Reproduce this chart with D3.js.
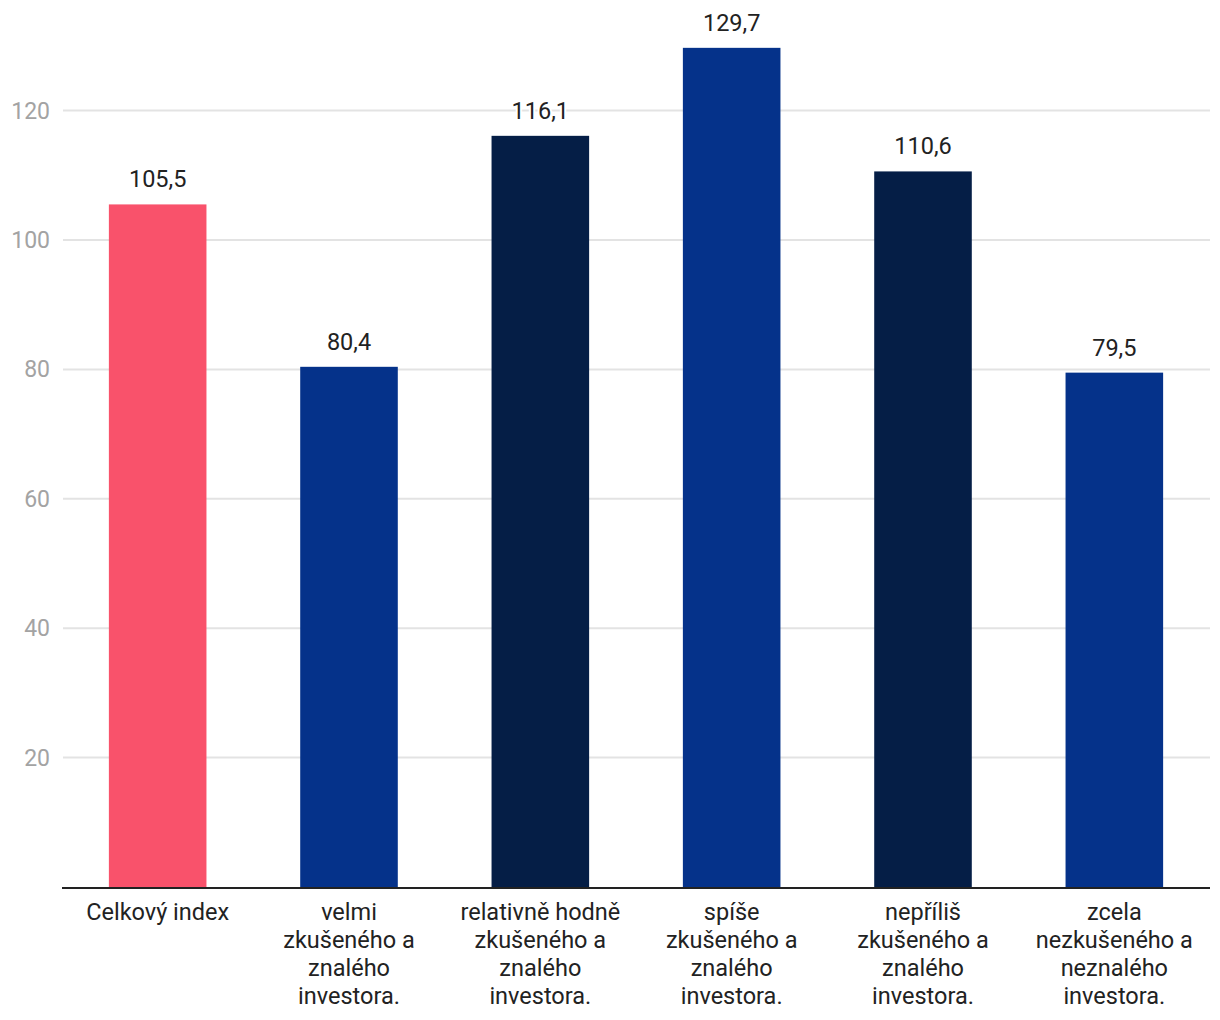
<!DOCTYPE html>
<html>
<head>
<meta charset="utf-8">
<script src="https://cdn.jsdelivr.net/npm/d3@7"></script>
<style>
  html, body { margin: 0; padding: 0; background: #fff; }
  svg { display: block; font-family: Roboto, "Noto Sans", sans-serif; }
</style>
</head>
<body>
<svg id="chart"></svg>
<script>
const categories = [
  "Celkový index",
  "velmi\nzkušeného a\nznalého\ninvestora.",
  "relativně hodně\nzkušeného a\nznalého\ninvestora.",
  "spíše\nzkušeného a\nznalého\ninvestora.",
  "nepříliš\nzkušeného a\nznalého\ninvestora.",
  "zcela\nnezkušeného a\nneznalého\ninvestora."
];
const values = [105.5, 80.4, 116.1, 129.7, 110.6, 79.5];
const barColors = ["#f9526b", "#05328a", "#051e46", "#05328a", "#051e46", "#05328a"];
const yTicks = [20, 40, 60, 80, 100, 120];

const width = 1220, height = 1020;
const margin = { top: 0, right: 10, bottom: 133, left: 62 };

const svg = d3.select("#chart").attr("width", width).attr("height", height);

// x scale
const x = d3.scaleBand()
  .domain(d3.range(categories.length))
  .range([margin.left, width - margin.right])
  .paddingInner(0.49)
  .paddingOuter(0.245);

// y scale
const y = d3.scaleLinear()
  .domain([0, 20])
  .range([height - margin.bottom, height - margin.bottom - 129.4]);

// gridlines + tick labels
const grid = svg.append("g");
grid.selectAll("line")
  .data(yTicks)
  .join("line")
  .attr("x1", margin.left + 1)
  .attr("x2", width - margin.right)
  .attr("y1", d => y(d))
  .attr("y2", d => y(d))
  .attr("stroke", "#e3e3e3")
  .attr("stroke-width", 2);

grid.selectAll("text")
  .data(yTicks)
  .join("text")
  .attr("x", 50)
  .attr("y", d => y(d))
  .attr("dy", "0.35em")
  .attr("text-anchor", "end")
  .attr("fill", "#a3a3a3")
  .style("font-size", "23px")
  .text(d => d);

// bars
svg.append("g")
  .selectAll("rect")
  .data(values)
  .join("rect")
  .attr("x", (d, i) => x(i))
  .attr("y", d => y(d))
  .attr("width", x.bandwidth())
  .attr("height", d => y(0) - y(d))
  .attr("fill", (d, i) => barColors[i]);

// value labels
svg.append("g")
  .selectAll("text")
  .data(values)
  .join("text")
  .attr("x", (d, i) => x(i) + x.bandwidth() / 2)
  .attr("y", d => y(d) - 17)
  .attr("text-anchor", "middle")
  .attr("fill", "#222")
  .attr("stroke", "#fff")
  .attr("stroke-width", 4)
  .attr("paint-order", "stroke")
  .style("font-size", "23.5px")
  .text(d => d3.format(".1f")(d).replace(".", ","));

// baseline
svg.append("line")
  .attr("x1", margin.left)
  .attr("x2", width - margin.right)
  .attr("y1", y(0) + 1)
  .attr("y2", y(0) + 1)
  .attr("stroke", "#222")
  .attr("stroke-width", 2);

// category labels
const cat = svg.append("g")
  .selectAll("text")
  .data(categories)
  .join("text")
  .attr("text-anchor", "middle")
  .attr("fill", "#222")
  .style("font-size", "23.5px")
  .attr("transform", (d, i) => "translate(" + (x(i) + x.bandwidth() / 2) + "," + (y(0) + 33) + ")");

cat.selectAll("tspan")
  .data(d => d.split("\n"))
  .join("tspan")
  .attr("x", 0)
  .attr("y", (d, i) => i * 28)
  .text(d => d);
</script>
</body>
</html>
